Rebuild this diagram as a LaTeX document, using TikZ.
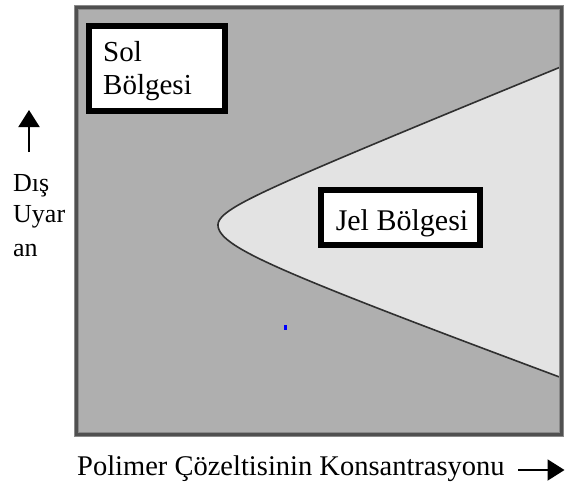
\documentclass[tikz,border=0pt]{standalone}
\usepackage{fontspec}
\setmainfont{Liberation Serif}
\usetikzlibrary{arrows.meta}
\definecolor{solgray}{HTML}{AFAFAF}
\definecolor{jelgray}{HTML}{E3E3E3}
\definecolor{framegray}{HTML}{505050}
\definecolor{framehalo}{HTML}{8A8A8A}
\definecolor{curvegray}{HTML}{303030}
\begin{document}
\begin{tikzpicture}[x=1pt,y=-1pt,
  regionbox/.style={draw=black, line width=6pt, fill=white, inner sep=0pt},
  lbl/.style={anchor=base west, inner sep=0pt, text=black},
  axisarrow/.style={line width=2pt, -{Triangle[width=21pt,length=17pt]}}]
\useasboundingbox (0,0) rectangle (565,488);
\fill[white] (0,0) rectangle (565,488);

% phase diagram area: sol background and gel region bounded by the curve
\coordinate (fnw) at (76,7);
\coordinate (fse) at (561,434);
\fill[solgray] (fnw) rectangle (fse);
\fill[jelgray]
  plot[domain=-2.765:0, samples=60, variable=\t] ({218+49.2*(cosh(\t)-1)}, {225+20*sinh(\t)})
  -- plot[domain=0:2.329, samples=60, variable=\t] ({218+82*(cosh(\t)-1)}, {225+30*sinh(\t)})
  -- cycle;
\draw[curvegray, line width=1.6pt]
  plot[domain=-2.765:0, samples=60, variable=\t] ({218+49.2*(cosh(\t)-1)}, {225+20*sinh(\t)})
  -- plot[domain=0:2.329, samples=60, variable=\t] ({218+82*(cosh(\t)-1)}, {225+30*sinh(\t)});
\draw[framehalo, line width=5pt] (fnw) rectangle (fse);
\draw[framegray, line width=3pt] (fnw) rectangle (fse);

% stray blue mark
\fill[blue] (284,325) rectangle (286.5,330);

% region labels
\node[regionbox, minimum width=136pt, minimum height=85pt] (solbox) at (157,68.5) {};
\node[lbl, font=\fontsize{29}{33}\selectfont] (sol1) at (103,61) {Sol};
\node[lbl, font=\fontsize{29}{33}\selectfont] (sol2) at (103,94) {Bölgesi};

\node[regionbox, minimum width=159pt, minimum height=55pt] (jelbox) at (400.5,217.5) {};
\node[anchor=base, inner sep=0pt, font=\fontsize{30}{34}\selectfont] (jel) at (402,230) {Jel Bölgesi};

% vertical axis
\coordinate (ubase) at (29,152);
\coordinate (utip) at (29,110);
\draw[axisarrow] (ubase) -- (utip);
\node[lbl, font=\fontsize{26}{30}\selectfont] (ax1) at (13,191) {Dış};
\node[lbl, font=\fontsize{26}{30}\selectfont] (ax2) at (13,222) {Uyar};
\node[lbl, font=\fontsize{26}{30}\selectfont] (ax3) at (13,256) {an};

% horizontal axis
\node[lbl, font=\fontsize{28.5}{32}\selectfont] (xlab) at (77,475) {Polimer Çözeltisinin Konsantrasyonu};
\coordinate (rbase) at (518,470);
\coordinate (rtip) at (564.5,470);
\draw[axisarrow] (rbase) -- (rtip);
\end{tikzpicture}
\end{document}
